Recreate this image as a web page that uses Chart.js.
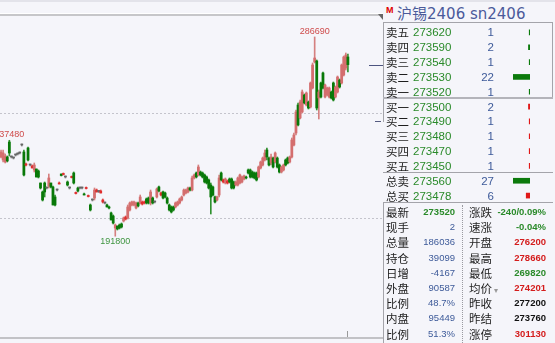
<!DOCTYPE html>
<html>
<head>
<meta charset="utf-8">
<title>沪锡2406</title>
<script src="https://cdn.jsdelivr.net/npm/chart.js@4.4.1/dist/chart.umd.min.js"></script>
<style>
  html, body { margin: 0; padding: 0; }
  body { width: 555px; height: 343px; background: #f5f5fa; position: relative; overflow: hidden;
         font-family: "Liberation Sans", "Noto Sans CJK SC", sans-serif; }
  .abs { position: absolute; }
  .ln { position: absolute; background: #a4a4aa; }
  .lbl { position: absolute; font: 11.5px/14px "Noto Sans CJK SC", sans-serif; color: #1e1e1e; white-space: nowrap; }
  .num { position: absolute; font: 11.5px/14px "Liberation Sans", sans-serif; white-space: nowrap; }
  .sm { position: absolute; font: 9.5px/14px "Liberation Sans", sans-serif; white-space: nowrap; text-align: right; }
</style>
</head>
<body>
<div class="abs" style="left:0;top:0;width:555px;height:2px;background:#e3e3ea"></div>
<div class="abs" style="left:0;top:13px;width:383px;height:1px;background:#ffffff"></div>
<div class="abs" style="left:0;top:14px;width:383px;height:2px;background:#c6c6c9"></div>
<div class="abs" style="left:378px;top:14px;width:0;height:0;border-top:6px solid #666;border-left:5px solid transparent"></div>

<div class="abs" id="kbox" style="left:0;top:16px;width:383px;height:321px"><canvas id="kline"></canvas></div>
<div class="abs" style="left:0;top:337px;width:383px;height:2px;background:#c2c2c6"></div>
<div class="abs" style="left:375px;top:121px;width:6px;height:1px;background:#555b80"></div>

<div class="abs" style="left:386px;top:5px;font:bold 9px/10px 'Liberation Sans',sans-serif;color:#e00000">M</div>
<div class="abs" id="title" style="left:397px;top:4px;font:15px/20px 'DejaVu Sans','Noto Sans CJK SC',sans-serif;color:#4b5a9a;white-space:nowrap"></div>

<div class="ln" style="left:383px;top:22px;width:170px;height:1px"></div>
<div class="ln" style="left:383px;top:22px;width:1px;height:100px"></div>
<div class="ln" style="left:552px;top:22px;width:1px;height:76px"></div>
<div class="ln" style="left:383px;top:97px;width:170px;height:2px;background:#b4b4ba"></div>
<div class="ln" style="left:383px;top:172px;width:170px;height:1px"></div>
<div class="ln" style="left:383px;top:202px;width:170px;height:1px"></div>
<div class="ln" style="left:383px;top:202px;width:1px;height:141px"></div>
<div class="abs" style="left:462px;top:205px;width:0;height:138px;border-left:1px dotted #9a9aa0"></div>

<div class="abs" id="bookbox" style="left:513px;top:25px;width:17px;height:178px"><canvas id="book"></canvas></div>
<div id="panel"></div>

<script>
// 合约
const contractName = '沪锡2406';
const contractCode = 'sn2406';

// K线 (开, 高, 低, 收)
const opens = [
  229530, 228100, 227150, 229530, 236670, 229530, 229050, 230480, 230960, 231430,
  235240, 231910, 225720, 233810, 225720, 224290, 223340, 223810, 222860, 217140,
  212860, 217140, 214760, 215720, 217140, 215240, 210480, 213810, 216670, 221430,
  221190, 220000, 217620, 214760, 219760, 221910, 212140, 214760, 214760, 214760,
  211910, 214520, 210710, 206670, 209050, 210000, 212860, 213100, 212380, 208100,
  207620, 206670, 205720, 202860, 201430, 195710, 196670, 197140, 197620, 199050,
  200000, 200480, 204290, 206670, 206670, 205240, 207620, 207620, 207140, 207620,
  209530, 210000, 207620, 210000, 208100, 210480, 215240, 211430, 212860, 212380,
  210000, 206670, 205720, 205720, 205720, 206670, 207620, 209050, 211430, 212380,
  212860, 214760, 213810, 219530, 221910, 220960, 222380, 221910, 220960, 220000,
  218570, 216190, 215240, 210480, 209050, 211430, 221910, 217620, 217140, 217140,
  219050, 219050, 217620, 216190, 216190, 217140, 217620, 219050, 220000, 223340,
  223340, 222380, 221910, 221910, 220000, 224290, 225720, 228100, 232860, 229050,
  226670, 229050, 227150, 229050, 225720, 222380, 223340, 228100, 229050, 227150,
  229530, 235240, 240960, 254290, 248100, 250960, 259050, 254290, 255720, 253340,
  262380, 274770, 275240, 257620, 264770, 269530, 258100, 259050, 258100, 260480,
  264770, 258100, 260480, 266190, 264770, 268580, 271910, 277150
];
const highs = [
  232860, 232860, 230960, 230000, 237480, 230000, 229530, 230960, 231430, 231910,
  235720, 232860, 226670, 234290, 226190, 225720, 226670, 223810, 223340, 217140,
  213330, 217620, 215240, 221430, 217140, 215720, 211430, 214290, 217620, 221430,
  221910, 220480, 218100, 215240, 220480, 222380, 212860, 215240, 215240, 215240,
  212380, 215240, 211430, 207140, 209530, 214760, 214290, 213570, 213810, 209530,
  208100, 207140, 206190, 203340, 201910, 197620, 196670, 197620, 198100, 200950,
  201430, 206670, 208100, 208570, 208570, 208100, 208100, 211430, 208570, 208570,
  210000, 210480, 213810, 210480, 208570, 214760, 215720, 212860, 213330, 212860,
  210480, 207140, 206190, 206190, 208100, 208570, 210000, 210950, 214290, 214290,
  215240, 215240, 220480, 221430, 222380, 225720, 222860, 222380, 221430, 220480,
  219050, 217140, 215720, 210950, 210950, 220960, 222380, 219050, 219530, 218570,
  219530, 219530, 218100, 218100, 220000, 221430, 220480, 220960, 220480, 223810,
  223810, 222860, 222380, 222380, 225240, 227620, 229530, 232860, 233810, 229530,
  230960, 229530, 231910, 229530, 226190, 225240, 226190, 228580, 229530, 230000,
  238570, 240960, 251910, 255240, 256670, 261430, 259530, 260480, 256190, 265240,
  274290, 286690, 275720, 261430, 265240, 270000, 264290, 262860, 262860, 260950,
  265240, 263330, 268100, 266670, 273810, 277620, 279050, 278570
];
const lows = [
  229050, 227150, 226670, 227150, 230000, 229050, 228580, 230000, 230480, 230960,
  234760, 220480, 225240, 227620, 225240, 224290, 222380, 220000, 219530, 214290,
  208570, 210480, 214290, 214760, 214760, 206670, 206190, 213330, 216670, 220480,
  220960, 219530, 215720, 214290, 219530, 216670, 211910, 212860, 214290, 214290,
  211430, 214290, 210480, 203810, 208570, 209050, 212860, 212620, 212380, 207620,
  207140, 205720, 204760, 199530, 197620, 191800, 194760, 195240, 195710, 198570,
  199530, 200000, 203810, 206190, 206190, 204760, 205720, 207140, 206670, 207140,
  207140, 207140, 206670, 207140, 207620, 210000, 212860, 210950, 209530, 210000,
  207140, 203810, 202860, 203810, 205240, 206190, 207140, 208570, 210950, 211910,
  212380, 213330, 213330, 219050, 219530, 220480, 220480, 219530, 217140, 216670,
  214290, 202380, 210950, 207620, 208570, 210480, 218100, 217140, 216670, 216670,
  217140, 214290, 214290, 215720, 215720, 216670, 217140, 218570, 219050, 221430,
  219530, 219530, 219050, 218100, 219530, 223810, 225240, 227620, 228100, 225240,
  225720, 224290, 226670, 224290, 221910, 221910, 222860, 225240, 226190, 226670,
  229050, 234760, 240000, 244290, 247620, 250480, 254770, 253810, 252380, 252860,
  261910, 274290, 251910, 247620, 257620, 261910, 257620, 258570, 257620, 257140,
  256190, 257620, 260000, 262380, 264290, 268100, 270960, 270000
];
const closes = [
  231910, 231430, 230000, 227620, 231430, 229530, 229050, 230480, 230960, 231430,
  235240, 220960, 226190, 228100, 225720, 225240, 225720, 220000, 220000, 214760,
  209050, 212860, 214760, 219530, 215240, 206670, 206670, 213810, 217140, 220720,
  221670, 220000, 216190, 214760, 220240, 217140, 212620, 213330, 214760, 214760,
  211430, 215000, 211190, 204290, 209050, 213810, 213810, 213100, 213330, 209050,
  207620, 205720, 205240, 199530, 198100, 197140, 195240, 195710, 196190, 200480,
  200950, 205720, 207620, 208100, 208100, 207620, 206190, 210480, 208100, 208100,
  207620, 207620, 212860, 207620, 208100, 214290, 213330, 212380, 210000, 210480,
  207620, 204290, 203340, 204290, 207620, 208100, 209530, 210480, 213810, 213810,
  214760, 213810, 219530, 220960, 220000, 224760, 220960, 220000, 217620, 217140,
  214760, 210480, 211430, 208100, 210480, 219530, 218570, 218570, 219050, 218100,
  217620, 214760, 214760, 217620, 219530, 220960, 220000, 220480, 219530, 221910,
  220000, 220000, 219530, 218570, 224760, 227150, 229050, 231430, 229530, 225720,
  229530, 224760, 231430, 224760, 222380, 224760, 225720, 225720, 226670, 229530,
  237620, 240000, 250960, 244770, 255720, 260480, 255240, 260000, 252860, 264770,
  273340, 276670, 252860, 260480, 258100, 262380, 263810, 262380, 262380, 257620,
  256670, 262860, 267620, 262860, 273340, 277150, 278100, 273520
];
// 价格网格线
const gridLevels = [200000, 250000];

// 五档盘口
const askLabels = ['卖五', '卖四', '卖三', '卖二', '卖一'];
const askPrices = [273620, 273590, 273540, 273530, 273520];
const askVols = [1, 2, 1, 22, 1];
const bidLabels = ['买一', '买二', '买三', '买四', '买五'];
const bidPrices = [273500, 273490, 273480, 273470, 273450];
const bidVols = [2, 1, 1, 1, 1];
const totLabels = ['总卖', '总买'];
const totPrices = [273560, 273478];
const totVols = [27, 6];

// 行情
const quoteLabelsL = ['最新', '现手', '总量', '持仓', '日增', '外盘', '比例', '内盘', '比例'];
const quoteValuesL = ['273520', '2', '186036', '39099', '-4167', '90587', '48.7%', '95449', '51.3%'];
const quoteLabelsR = ['涨跌', '速涨', '开盘', '最高', '最低', '均价', '昨收', '昨结', '涨停'];
const quoteValuesR = ['-240/0.09%', '-0.04%', '276200', '278660', '269820', '274201', '277200', '273760', '301130'];

// ---------- 颜色 ----------
const RED = '#d41c1c', GREEN = '#2a8a2a', BLUE = '#3d5a99', BLACK = '#111111';
const settle = Number(quoteValuesR[quoteLabelsR.indexOf('昨结')]);
function priceColor(v) {
  v = Number(v);
  return v > settle ? RED : v < settle ? GREEN : BLACK;
}

// ---------- 盘口文字 ----------
document.getElementById('title').textContent = contractName + ' ' + contractCode;
const panel = document.getElementById('panel');
function put(cls, text, left, yc, width, color, extra) {
  const d = document.createElement('div');
  d.className = cls;
  d.textContent = text;
  d.style.left = left + 'px';
  d.style.top = (yc - 7) + 'px';
  if (width) { d.style.width = width + 'px'; d.style.textAlign = 'right'; }
  if (color) d.style.color = color;
  if (extra) Object.assign(d.style, extra);
  panel.appendChild(d);
  return d;
}
const bookLabels = [...askLabels, ...bidLabels, ...totLabels];
const bookPrices = [...askPrices, ...bidPrices, ...totPrices];
const bookVols = [...askVols, ...bidVols, ...totVols];
const rowPitch = 178 / bookLabels.length;
bookLabels.forEach((l, k) => {
  const yc = 25 + rowPitch * (k + 0.5);
  put('lbl', l, 386, yc);
  put('num', String(bookPrices[k]), 413, yc, 0, priceColor(bookPrices[k]));
  put('num', String(bookVols[k]), 454, yc, 40, BLUE);
});

quoteLabelsL.forEach((l, k) => {
  const yc = 211.9 + 15.2 * k;
  put('lbl', l, 386, yc);
  const v = quoteValuesL[k];
  if (k === 0) put('sm', v, 405, yc, 50, priceColor(v), {fontWeight: 'bold'});
  else put('sm', v, 405, yc, 50, BLUE);
  const r = quoteLabelsR[k];
  const lb = put('lbl', r, 469, yc);
  if (r === '均价') {
    const s = document.createElement('span');
    s.textContent = ' ▾';
    s.style.cssText = 'color:#999;font-size:8px';
    lb.appendChild(s);
  }
  const rv = quoteValuesR[k];
  let c;
  if (r === '昨收' || r === '昨结') c = BLACK;
  else if (rv.includes('%')) c = rv.startsWith('-') ? GREEN : RED;
  else c = priceColor(rv);
  put('sm', rv, 486, yc, 60, c, {fontWeight: 'bold'});
});

// ---------- 盘口量柱 ----------
const levelMax = Math.max(...askVols, ...bidVols);
const totMax = Math.max(...totVols);
const bookLen = [...askVols.map(v => v / levelMax), ...bidVols.map(v => v / levelMax), ...totVols.map(v => v / totMax)];
new Chart(document.getElementById('book'), {
  type: 'bar',
  data: {
    labels: bookLabels,
    datasets: [{
      data: bookLen,
      backgroundColor: bookLabels.map(l => l.includes('卖') ? '#0c7a0c' : '#e01818'),
      barThickness: 5
    }]
  },
  options: {
    indexAxis: 'y', responsive: true, maintainAspectRatio: false, animation: false, events: [],
    layout: { padding: 0 },
    plugins: { legend: { display: false }, tooltip: { enabled: false } },
    scales: {
      x: { type: 'linear', min: 0, max: 1, reverse: true, display: false },
      y: { display: false }
    }
  }
});

// ---------- K线 ----------
const N = opens.length;
const idx = opens.map((_, i) => i);
function kind(i) {
  const d = closes[i] - opens[i];
  return d > 0 ? (d <= 1000 ? 'upS' : 'up') : d < 0 ? 'dn' : 'flat';
}
const bodyCol = { up: '#d46e6e', upS: '#e02c2c', dn: '#087808', flat: '#666666' };
const wickCol = { up: '#d58080', upS: '#e05050', dn: '#2f912f', flat: '#858585' };

const marks = {
  id: 'marks',
  afterDatasetsDraw(chart) {
    const { ctx, chartArea } = chart;
    const xs = chart.scales.x, ys = chart.scales.y;
    ctx.save();
    ctx.font = '9px "Liberation Sans", sans-serif';
    ctx.textAlign = 'center';
    // 最高 / 最低
    let iMax = 0, iMin = 0, iLeft = 0;
    idx.forEach(i => {
      if (highs[i] > highs[iMax]) iMax = i;
      if (lows[i] < lows[iMin]) iMin = i;
      if (i < 40 && highs[i] > highs[iLeft]) iLeft = i;
    });
    ctx.fillStyle = '#cf4b4b';
    ctx.textBaseline = 'bottom';
    [iMax, iLeft].forEach(i => {
      ctx.fillText(String(highs[i]), xs.getPixelForValue(i), ys.getPixelForValue(highs[i]) - 1);
    });
    ctx.fillStyle = '#3f9540';
    ctx.textBaseline = 'top';
    ctx.fillText(String(lows[iMin]), xs.getPixelForValue(iMin), ys.getPixelForValue(lows[iMin]) + 1);
    // 最新价标记
    const yl = Math.round(ys.getPixelForValue(closes[N - 1])) + 0.5;
    ctx.strokeStyle = '#4c5480';
    ctx.lineWidth = 1;
    ctx.beginPath();
    ctx.moveTo(chartArea.right - 14, yl);
    ctx.lineTo(chartArea.right, yl);
    ctx.stroke();
    // 末根刻度
    const xl = Math.round(xs.getPixelForValue(N - 1)) - 0.5;
    ctx.strokeStyle = '#9a9a9a';
    ctx.beginPath();
    ctx.moveTo(xl, chartArea.bottom - 6);
    ctx.lineTo(xl, chartArea.bottom);
    ctx.stroke();
    ctx.restore();
  }
};

new Chart(document.getElementById('kline'), {
  type: 'bar',
  data: {
    datasets: [
      {
        data: idx.map(i => ({ x: i, y: [lows[i], highs[i]] })),
        backgroundColor: idx.map(i => wickCol[kind(i)]),
        barThickness: 1, grouped: false, order: 2
      },
      {
        data: idx.map(i => ({ x: i, y: [opens[i], closes[i]] })),
        backgroundColor: idx.map(i => bodyCol[kind(i)]),
        barThickness: 2.1, minBarLength: 1, grouped: false, order: 1
      }
    ]
  },
  options: {
    responsive: true, maintainAspectRatio: false, animation: false, events: [],
    layout: { padding: 0 },
    plugins: { legend: { display: false }, tooltip: { enabled: false } },
    scales: {
      x: { type: 'linear', min: -0.5, max: 183.9, offset: false, display: false },
      y: {
        position: 'right', min: 143800, max: 296670,
        afterBuildTicks: s => { s.ticks = gridLevels.map(v => ({ value: v })); },
        afterFit: s => { s.width = 0; },
        ticks: { display: false },
        grid: { color: '#c4c4cc', lineWidth: 1, drawTicks: false },
        border: { display: false, dash: [2, 2] }
      }
    }
  },
  plugins: [marks]
});
</script>
</body>
</html>
